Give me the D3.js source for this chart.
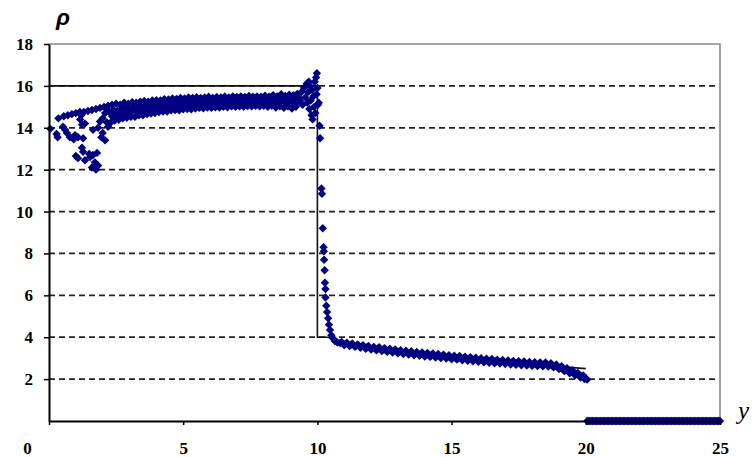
<!DOCTYPE html>
<html>
<head>
<meta charset="utf-8">
<script src="https://cdn.jsdelivr.net/npm/d3@7"></script>
<style>
  html, body { margin: 0; padding: 0; background: #fff; }
  svg { display: block; }
  .tick text { font-family: "Liberation Serif", "Times New Roman", serif; font-weight: bold; font-size: 17px; }
</style>
</head>
<body>
<svg id="chart" width="755" height="457"></svg>
<script>
// Density profile: particle values [position, density] by region.
const startPts = [
  [0.05,13.95],[0.28,13.7],[0.32,13.55],[0.35,14.45],[0.52,14.05],[0.55,14.55],[0.6,13.9],
  [0.67,13.75],[0.7,14.6],[0.78,13.55],[0.85,14.65],[0.92,13.45],[0.97,13.65],[1.0,14.7],
  [1.0,12.65],[1.08,13.55],[1.08,12.55],[1.16,14.4],[1.15,14.75],[1.2,14.6],[1.23,14.15],
  [1.23,13.05],[1.27,13.5],[1.27,12.85],[1.3,14.75],[1.34,14.2],[1.34,12.45],[1.45,14.8],
  [1.5,12.75],[1.53,12.6],[1.6,12.1],[1.6,14.85],[1.64,13.9],[1.64,12.7],[1.71,12.35],
  [1.75,14.9],[1.79,12.8],[1.75,12.0],[1.83,14.0],[1.83,12.2],[1.9,14.3],[1.9,14.95],
  [1.95,13.55],[2.0,13.75],[2.0,14.45],[2.05,15.0],[2.09,13.4],[2.09,14.7],[2.16,14.25],
  [2.15,14.9],[2.2,14.05]
];

const plateauTop = [
  [2.2,15.05],[2.35,15.1],[2.5,15.15],[2.65,15.1],[2.8,15.2],[2.95,15.15],[3.1,15.22],
  [3.25,15.2],[3.4,15.25],[3.55,15.28],[3.7,15.25],[3.85,15.3],[4.0,15.32],[4.15,15.3],
  [4.3,15.37],[4.45,15.35],[4.6,15.4],[4.75,15.38],[4.9,15.43],[5.05,15.4],[5.2,15.45],
  [5.35,15.42],[5.5,15.46],[5.65,15.42],[5.8,15.45],[5.95,15.48],[6.1,15.43],[6.25,15.47],
  [6.4,15.45],[6.55,15.49],[6.7,15.45],[6.85,15.5],[7.0,15.47],[7.15,15.5],[7.3,15.47],
  [7.45,15.52],[7.6,15.48],[7.75,15.5],[7.9,15.48],[8.05,15.53],[8.2,15.48],[8.35,15.56],
  [8.5,15.5],[8.65,15.6],[8.8,15.52],[8.95,15.58],[9.1,15.55],[9.25,15.62]
];

const plateauMid = [
  [2.25,14.75],[2.4,14.85],[2.55,14.8],[2.7,14.9],[2.85,14.95],[3.0,14.9],[3.15,15.0],
  [3.3,15.02],[3.45,14.98],[3.6,15.05],[3.75,15.08],[3.9,15.05],[4.05,15.1],[4.2,15.12],
  [4.35,15.1],[4.5,15.15],[4.65,15.18],[4.8,15.15],[4.95,15.2],[5.1,15.22],[5.25,15.18],
  [5.4,15.22],[5.55,15.25],[5.7,15.2],[5.85,15.25],[6.0,15.23],[6.15,15.27],[6.3,15.24],
  [6.45,15.28],[6.6,15.25],[6.75,15.3],[6.9,15.26],[7.05,15.3],[7.2,15.28],[7.35,15.32],
  [7.5,15.27],[7.65,15.3],[7.8,15.33],[7.95,15.28],[8.1,15.32],[8.25,15.3],[8.4,15.35],
  [8.55,15.28],[8.7,15.38],[8.85,15.3],[9.0,15.4],[9.15,15.3],[9.3,15.45]
];

const plateauLowMid = [
  [2.35,14.55],[2.5,14.6],[2.65,14.68],[2.8,14.72],[2.95,14.72],[3.1,14.8],[3.25,14.82],
  [3.4,14.85],[3.55,14.88],[3.7,14.9],[3.85,14.92],[4.0,14.95],[4.15,14.97],[4.3,14.98],
  [4.45,15.02],[4.6,15.03],[4.75,15.02],[4.9,15.07],[5.05,15.08],[5.2,15.06],[5.35,15.1],
  [5.5,15.12],[5.65,15.1],[5.8,15.13],[5.95,15.12],[6.1,15.15],[6.25,15.14],[6.4,15.17],
  [6.55,15.15],[6.7,15.18],[6.85,15.16],[7.0,15.19],[7.15,15.17],[7.3,15.2],[7.45,15.18],
  [7.6,15.2],[7.75,15.21],[7.9,15.19],[8.05,15.22],[8.2,15.2],[8.35,15.23],[8.5,15.18],
  [8.65,15.25],[8.8,15.2],[8.95,15.25],[9.1,15.17],[9.25,15.22]
];

const plateauLow = [
  [2.3,14.25],[2.45,14.35],[2.6,14.38],[2.75,14.45],[2.9,14.48],[3.05,14.52],[3.2,14.52],
  [3.35,14.6],[3.5,14.6],[3.65,14.65],[3.8,14.68],[3.95,14.7],[4.1,14.75],[4.25,14.78],
  [4.4,14.78],[4.55,14.83],[4.7,14.85],[4.85,14.84],[5.0,14.88],[5.15,14.9],[5.3,14.88],
  [5.45,14.92],[5.6,14.95],[5.75,14.93],[5.9,14.97],[6.05,14.95],[6.2,14.98],[6.35,14.97],
  [6.5,15.0],[6.65,14.98],[6.8,15.02],[6.95,15.0],[7.1,15.03],[7.25,15.0],[7.4,15.04],
  [7.55,15.02],[7.7,15.05],[7.85,15.02],[8.0,15.05],[8.15,15.0],[8.3,15.05],[8.45,14.97],
  [8.6,15.03],[8.75,14.95],[8.9,15.02],[9.05,14.92],[9.2,15.0]
];

const spikePts = [
  [9.35,15.3],[9.4,15.7],[9.45,15.1],[9.5,15.9],[9.55,15.45],[9.6,16.1],[9.62,15.2],
  [9.65,15.7],[9.68,16.2],[9.7,14.9],[9.72,16.0],[9.75,15.3],[9.78,14.6],[9.8,15.8],
  [9.82,14.4],[9.85,15.5],[9.88,15.0],[9.9,16.2],[9.92,14.7],[9.95,16.4],[9.97,15.6],
  [9.98,16.6],[10.0,15.9],[10.02,15.1],[10.05,15.2],[10.08,14.1],[10.1,13.5]
];

const dropPts = [
  [10.15,11.1],[10.17,10.85],[10.2,9.2],[10.23,8.3],[10.24,8.1],[10.25,7.7],[10.27,7.2],
  [10.28,6.6],[10.3,6.3],[10.3,5.9],[10.33,5.5],[10.36,5.2],[10.4,4.9],[10.43,4.6],
  [10.47,4.35],[10.52,4.1],[10.58,3.95],[10.65,3.82],[10.75,3.75]
];

const tailTop = [
  [10.9,3.78],[11.1,3.74],[11.3,3.7],[11.5,3.66],[11.7,3.62],[11.9,3.58],[12.1,3.54],
  [12.3,3.52],[12.5,3.48],[12.7,3.45],[12.9,3.42],[13.1,3.38],[13.3,3.36],[13.5,3.33],
  [13.7,3.3],[13.9,3.27],[14.1,3.25],[14.3,3.22],[14.5,3.2],[14.7,3.17],[14.9,3.14],
  [15.1,3.12],[15.3,3.1],[15.5,3.07],[15.7,3.05],[15.9,3.02],[16.1,3.0],[16.3,2.98],
  [16.5,2.96],[16.7,2.93],[16.9,2.91],[17.1,2.89],[17.3,2.87],[17.5,2.86],[17.7,2.84],
  [17.9,2.82],[18.1,2.81],[18.3,2.8],[18.5,2.79],[18.7,2.76],[18.9,2.7],[19.1,2.62],
  [19.3,2.52],[19.5,2.42],[19.7,2.3],[19.9,2.18]
];

const tailMid = [
  [10.85,3.72],[11.05,3.68],[11.25,3.64],[11.45,3.6],[11.65,3.56],[11.85,3.52],[12.05,3.48],
  [12.25,3.45],[12.45,3.41],[12.65,3.38],[12.85,3.35],[13.05,3.31],[13.25,3.28],[13.45,3.25],
  [13.65,3.22],[13.85,3.19],[14.05,3.17],[14.25,3.14],[14.45,3.12],[14.65,3.09],[14.85,3.06],
  [15.05,3.04],[15.25,3.02],[15.45,2.99],[15.65,2.97],[15.85,2.94],[16.05,2.92],[16.25,2.89],
  [16.45,2.87],[16.65,2.85],[16.85,2.83],[17.05,2.81],[17.25,2.79],[17.45,2.77],[17.65,2.75],
  [17.85,2.74],[18.05,2.72],[18.25,2.71],[18.45,2.7],[18.65,2.68],[18.85,2.63],[19.05,2.55],
  [19.25,2.45],[19.45,2.35],[19.65,2.24],[19.85,2.13]
];

const tailLow = [
  [11.0,3.62],[11.2,3.58],[11.4,3.54],[11.6,3.5],[11.8,3.45],[12.0,3.41],[12.2,3.37],
  [12.4,3.34],[12.6,3.3],[12.8,3.27],[13.0,3.23],[13.2,3.2],[13.4,3.17],[13.6,3.14],
  [13.8,3.11],[14.0,3.08],[14.2,3.06],[14.4,3.03],[14.6,3.0],[14.8,2.98],[15.0,2.95],
  [15.2,2.93],[15.4,2.9],[15.6,2.88],[15.8,2.85],[16.0,2.83],[16.2,2.8],[16.4,2.78],
  [16.6,2.76],[16.8,2.74],[17.0,2.72],[17.2,2.7],[17.4,2.68],[17.6,2.66],[17.8,2.65],
  [18.0,2.63],[18.2,2.62],[18.4,2.61],[18.6,2.6],[18.8,2.56],[19.0,2.48],[19.2,2.38],
  [19.4,2.28],[19.6,2.18],[19.8,2.08],[19.95,2.0],[20.05,1.98]
];

// Empty region beyond the front: density zero.
const floorX = [
  20.05,20.1,20.15,20.2,20.25,20.3,20.35,20.4,20.45,20.5,20.55,20.6,20.65,20.7,20.75,20.8,
  20.85,20.9,20.95,21.0,21.05,21.1,21.15,21.2,21.25,21.3,21.35,21.4,21.45,21.5,21.55,21.6,
  21.65,21.7,21.75,21.8,21.85,21.9,21.95,22.0,22.05,22.1,22.15,22.2,22.25,22.3,22.35,22.4,
  22.45,22.5,22.55,22.6,22.65,22.7,22.75,22.8,22.85,22.9,22.95,23.0,23.05,23.1,23.15,23.2,
  23.25,23.3,23.35,23.4,23.45,23.5,23.55,23.6,23.65,23.7,23.75,23.8,23.85,23.9,23.95,24.0,
  24.05,24.1,24.15,24.2,24.25,24.3,24.35,24.4,24.45,24.5,24.55,24.6,24.65,24.7,24.75,24.8,
  24.85,24.9,24.95,25.0
];
const floorRho = 0;

// Exact solution profile.
const exactLine = [
  [0,16],[10,16],[10,4],[10.4,4],[11,3.72],[12,3.47],[13,3.3],[14,3.16],[15,3.03],
  [16,2.91],[17,2.81],[18,2.72],[19,2.61],[19.5,2.55],[20,2.5]
];

const xTicks = [0, 5, 10, 15, 20, 25];
const yTicks = [2, 4, 6, 8, 10, 12, 14, 16, 18];
const gridValues = [2, 4, 6, 8, 10, 12, 14, 16];

const svg = d3.select("#chart");
const x = d3.scaleLinear().domain([0, 25]).range([49, 720]);
const y = d3.scaleLinear().domain([0, 18]).range([421, 44]);

// dashed horizontal grid
svg.append("g").selectAll("line").data(gridValues).join("line")
  .attr("x1", x(0)).attr("x2", 715)
  .attr("y1", d => y(d)).attr("y2", d => y(d))
  .attr("stroke", "#222").attr("stroke-width", 1.7)
  .attr("stroke-dasharray", "6,4");

// plot frame (top and right)
svg.append("path")
  .attr("d", `M${x(0)},${y(18)}H${x(25)}V${y(0)}`)
  .attr("fill", "none").attr("stroke", "#8a8a8a").attr("stroke-width", 1.6);

// exact solution
svg.append("path").datum(exactLine)
  .attr("d", d3.line().x(d => x(d[0])).y(d => y(d[1])))
  .attr("fill", "none").attr("stroke", "#111").attr("stroke-width", 1.6);

// particles
const points = [].concat(startPts, plateauLow, plateauLowMid, plateauMid, plateauTop,
  spikePts, dropPts, tailLow, tailMid, tailTop, floorX.map(v => [v, floorRho]));
const r = 4.2;
svg.append("g").selectAll("path").data(points).join("path")
  .attr("transform", d => `translate(${x(d[0])},${y(d[1])})`)
  .attr("d", `M0,${-r}L${r},0L0,${r}L${-r},0Z`)
  .attr("fill", "#000080");

// axes
const yAxis = svg.append("g").attr("transform", `translate(${x(0)},0)`)
  .call(d3.axisLeft(y).tickValues(yTicks).tickSize(5).tickSizeOuter(0).tickPadding(11));
const xAxis = svg.append("g").attr("transform", `translate(0,${y(0)})`)
  .call(d3.axisBottom(x).tickValues(xTicks).tickSize(4).tickSizeOuter(0).tickPadding(17));

[yAxis, xAxis].forEach(g => {
  g.attr("font-family", "Liberation Serif").attr("font-size", 17).attr("font-weight", "bold");
  g.select(".domain").attr("stroke", "#000").attr("stroke-width", 2);
  g.selectAll(".tick line").attr("stroke", "#000").attr("stroke-width", 1.5);
  g.selectAll(".tick text").attr("fill", "#000");
});
xAxis.selectAll(".tick text").filter(d => d === 0).attr("x", -22);

// axis titles
svg.append("text").attr("x", 56).attr("y", 25).text("ρ")
  .attr("font-family", "Liberation Sans").attr("font-weight", "bold")
  .attr("font-style", "italic").attr("font-size", 23).attr("fill", "#000");
svg.append("text").attr("x", 738).attr("y", 419).text("y")
  .attr("font-family", "Liberation Serif").attr("font-style", "italic")
  .attr("font-size", 25).attr("fill", "#000");
</script>
</body>
</html>
